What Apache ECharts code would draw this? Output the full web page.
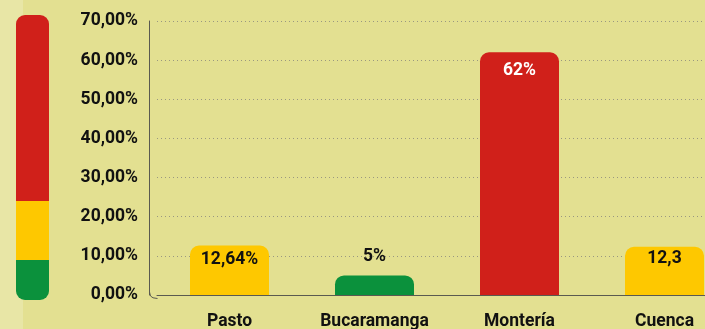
<!DOCTYPE html>
<html>
<head>
<meta charset="utf-8">
<script src="https://cdn.jsdelivr.net/npm/echarts@6/dist/echarts.min.js"></script>
<style>
  html, body { margin: 0; padding: 0; background: #e3e091; overflow: hidden; }
  /* the plot runs on past the right edge of the window, cutting off the last bar */
  #chart { width: 737px; height: 329px; }
</style>
</head>
<body>
<div id="chart"></div>
<script>
// Cities and their share values (percent)
const cities = ['Pasto', 'Bucaramanga', 'Montería', 'Cuenca'];
const shares = [12.64, 5, 62, 12.3];
// How each value label is written
const valueTexts = ['12,64%', '5%', '62%', '12,3'];
// Y axis ticks
const yTicks = [0, 10, 20, 30, 40, 50, 60, 70];

const RED = '#d0201a', YELLOW = '#fec800', GREEN = '#0b913c';
const FONT = 'Roboto';
const FS = 17.5;

// Traffic-light colour for a value
function levelColor(v) {
  if (v < 10) return GREEN;
  if (v < 25) return YELLOW;
  return RED;
}

// Label placement per bar depending on bar size
const labelStyles = [
  { position: 'insideTop', distance: 5, color: '#111' },
  { position: 'top', distance: 10, color: '#111' },
  { position: 'insideTop', distance: 9, color: '#fff' },
  { position: 'insideTop', distance: 3, color: '#111' }
];

const chart = echarts.init(document.getElementById('chart'));
chart.setOption({
  backgroundColor: '#e3e091',
  animation: false,
  grid: { left: 157, right: 0, top: 21, bottom: 34, containLabel: false, outerBoundsMode: 'none' },
  xAxis: {
    type: 'category',
    data: cities,
    offset: 3,
    axisLine: { lineStyle: { color: '#5a5a50', width: 1 } },
    axisTick: { show: false },
    axisLabel: { interval: 0, color: '#111', fontFamily: FONT, fontWeight: 'bold', fontSize: FS, margin: 15 }
  },
  yAxis: {
    type: 'value',
    min: yTicks[0],
    max: yTicks[yTicks.length - 1],
    interval: 10,
    offset: 8,
    axisLine: { show: true, lineStyle: { color: '#5a5a50', width: 1 } },
    axisTick: { show: false },
    axisLabel: {
      color: '#111', fontFamily: FONT, fontWeight: 'bold', fontSize: FS, margin: 11,
      formatter: v => v.toFixed(2).replace('.', ',') + '%'
    },
    splitLine: { show: true, lineStyle: { color: '#9a9880', type: [1, 3], width: 1 } }
  },
  series: [{
    type: 'bar',
    barWidth: 79,
    data: shares.map((v, i) => ({
      value: v,
      itemStyle: { color: levelColor(v) },
      label: {
        show: true,
        position: labelStyles[i].position,
        distance: labelStyles[i].distance,
        color: labelStyles[i].color,
        formatter: valueTexts[i]
      }
    })),
    itemStyle: { borderRadius: [9, 9, 0, 0] },
    label: { fontFamily: FONT, fontWeight: 'bold', fontSize: FS }
  }],
  graphic: [
    // pale strip along the left edge
    { type: 'rect', shape: { x: 0, y: 0, width: 23, height: 329 }, style: { fill: '#e8e6a6' }, z: -1 },
    // traffic-light scale
    { type: 'rect', shape: { x: 16, y: 15, width: 33, height: 186, r: [9, 9, 0, 0] }, style: { fill: RED } },
    { type: 'rect', shape: { x: 16, y: 201, width: 33, height: 59 }, style: { fill: YELLOW } },
    { type: 'rect', shape: { x: 16, y: 260, width: 33, height: 40, r: [0, 0, 9, 9] }, style: { fill: GREEN } },
    // rounded corner joining both axis lines
    { type: 'polyline', shape: { points: [[149.5, 292], [150.5, 296], [153, 297.8], [157.5, 298.5]] },
      style: { stroke: '#5a5a50', fill: null, lineWidth: 1 } }
  ]
});
</script>
</body>
</html>
